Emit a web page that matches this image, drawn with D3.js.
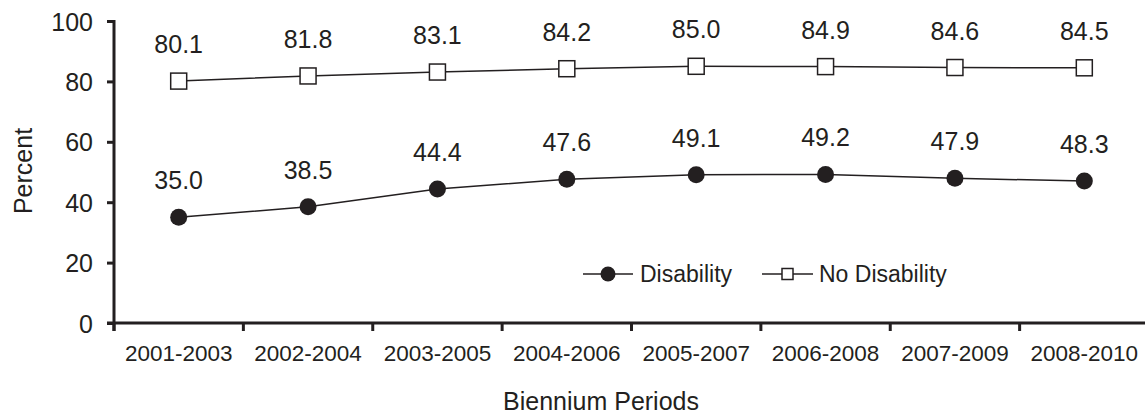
<!DOCTYPE html>
<html>
<head>
	<title>Biennium Periods</title>
	<style type="text/css">
body {
  margin: 0;
  background: #fff;
}

text {
  font-family: "Liberation Sans", Arial, sans-serif;
  fill: #231f20;
}

.axis path, .axis line {
  stroke: #231f20;
}
	</style>
</head>
<body>
	<svg width="1145" height="416"></svg>

	<script src="https://d3js.org/d3.v7.min.js"></script>
	<script type="text/javascript">
		var periods = ["2001-2003", "2002-2004", "2003-2005", "2004-2006", "2005-2007", "2006-2008", "2007-2009", "2008-2010"]
		// values as plotted, and labels as printed on the chart
		var disability = [35.0, 38.5, 44.4, 47.6, 49.1, 49.2, 47.9, 47.0]
		var disabilityLabels = ["35.0", "38.5", "44.4", "47.6", "49.1", "49.2", "47.9", "48.3"]
		var noDisability = [80.1, 81.8, 83.1, 84.2, 85.0, 84.9, 84.6, 84.5]
		var noDisabilityLabels = ["80.1", "81.8", "83.1", "84.2", "85.0", "84.9", "84.6", "84.5"]
		var yTicks = [0, 20, 40, 60, 80, 100]

		var svg = d3.select("svg")
		var ink = "#231f20"

		var x = d3.scaleBand()
			.domain(periods)
			.range([114, 1149])
			.paddingInner(0)
			.paddingOuter(0)

		var y = d3.scaleLinear()
			.domain([0, 100])
			.range([323, 21])

		function cx(d, i) { return x(periods[i]) + x.bandwidth() / 2 }

		// y axis
		var yAxis = svg.append("g")
			.attr("class", "axis")
			.attr("transform", "translate(" + x.range()[0] + ",0)")
			.call(d3.axisLeft(y).tickValues(yTicks).tickSize(7).tickPadding(14))
		yAxis.select(".domain").remove()
		yAxis.selectAll("line").attr("stroke-width", 3)
		yAxis.selectAll("text")
			.attr("font-size", 25)
			.attr("fill", ink)
			.attr("dy", "0.36em")
			.style("font-family", "'Liberation Sans', Arial, sans-serif")

		svg.append("line")
			.attr("x1", x.range()[0]).attr("x2", x.range()[0])
			.attr("y1", y(100) - 1).attr("y2", y(0) + 8)
			.attr("stroke", ink).attr("stroke-width", 3)

		// x axis
		svg.append("line")
			.attr("x1", x.range()[0] - 7).attr("x2", 1145)
			.attr("y1", y(0)).attr("y2", y(0))
			.attr("stroke", ink).attr("stroke-width", 3)

		svg.append("g").selectAll("line")
			.data(periods)
			.enter().append("line")
				.attr("x1", function (d) { return x(d) })
				.attr("x2", function (d) { return x(d) })
				.attr("y1", y(0))
				.attr("y2", y(0) + 8)
				.attr("stroke", ink)
				.attr("stroke-width", 3)

		svg.append("g").selectAll("text")
			.data(periods)
			.enter().append("text")
				.attr("x", function (d) { return x(d) + x.bandwidth() / 2 })
				.attr("y", 361)
				.attr("text-anchor", "middle")
				.attr("font-size", 22.5)
				.text(function (d) { return d })

		// axis titles
		svg.append("text")
			.attr("x", 601)
			.attr("y", 410)
			.attr("text-anchor", "middle")
			.attr("font-size", 25)
			.text("Biennium Periods")

		svg.append("text")
			.attr("transform", "translate(32,171) rotate(-90)")
			.attr("text-anchor", "middle")
			.attr("font-size", 25)
			.text("Percent")

		var line = d3.line()
			.x(cx)
			.y(function (d) { return y(d) })

		// series lines
		svg.append("path")
			.datum(noDisability)
			.attr("d", line)
			.attr("fill", "none")
			.attr("stroke", ink)
			.attr("stroke-width", 1.5)

		svg.append("path")
			.datum(disability)
			.attr("d", line)
			.attr("fill", "none")
			.attr("stroke", ink)
			.attr("stroke-width", 1.5)

		// markers
		svg.append("g").selectAll("rect")
			.data(noDisability)
			.enter().append("rect")
				.attr("x", function (d, i) { return cx(d, i) - 8 })
				.attr("y", function (d) { return y(d) - 8 })
				.attr("width", 16)
				.attr("height", 16)
				.attr("fill", "#fff")
				.attr("stroke", ink)
				.attr("stroke-width", 1.5)

		svg.append("g").selectAll("circle")
			.data(disability)
			.enter().append("circle")
				.attr("cx", cx)
				.attr("cy", function (d) { return y(d) })
				.attr("r", 8.5)
				.attr("fill", ink)

		// value labels
		svg.append("g").selectAll("text")
			.data(noDisability)
			.enter().append("text")
				.attr("x", cx)
				.attr("y", function (d) { return y(d) - 28 })
				.attr("text-anchor", "middle")
				.attr("font-size", 25)
				.text(function (d, i) { return noDisabilityLabels[i] })

		svg.append("g").selectAll("text")
			.data(disability)
			.enter().append("text")
				.attr("x", cx)
				.attr("y", function (d) { return y(d) - 28 })
				.attr("text-anchor", "middle")
				.attr("font-size", 25)
				.text(function (d, i) { return disabilityLabels[i] })

		// legend
		var legend = svg.append("g").attr("transform", "translate(0,274)")

		legend.append("line")
			.attr("x1", 583).attr("x2", 633)
			.attr("stroke", ink).attr("stroke-width", 1.5)
		legend.append("circle")
			.attr("cx", 608).attr("r", 7.5).attr("fill", ink)
		legend.append("text")
			.attr("x", 640).attr("y", 8)
			.attr("font-size", 23)
			.text("Disability")

		legend.append("line")
			.attr("x1", 762).attr("x2", 813)
			.attr("stroke", ink).attr("stroke-width", 1.5)
		legend.append("rect")
			.attr("x", 782).attr("y", -5.5)
			.attr("width", 11).attr("height", 11)
			.attr("fill", "#fff")
			.attr("stroke", ink).attr("stroke-width", 1.5)
		legend.append("text")
			.attr("x", 819).attr("y", 8)
			.attr("font-size", 23)
			.text("No Disability")
	</script>
</body>
</html>
